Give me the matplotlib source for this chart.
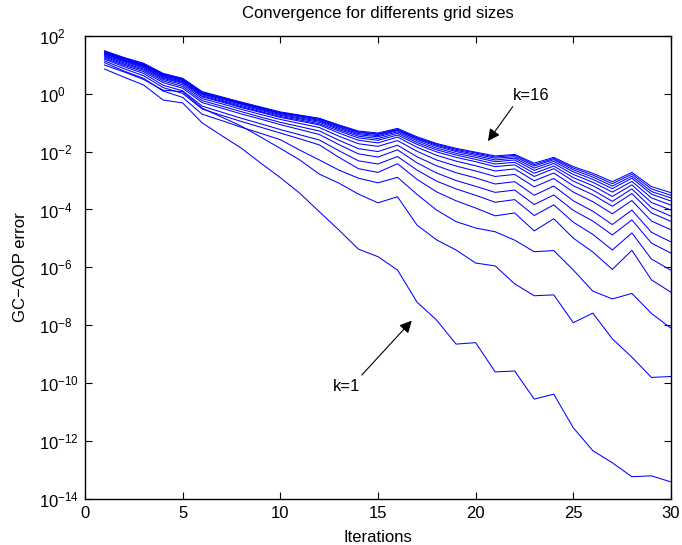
import matplotlib
matplotlib.use('Agg')
import matplotlib.pyplot as plt
import numpy as np

plt.rcParams['font.family'] = ['Liberation Sans', 'DejaVu Sans']
plt.rcParams['mathtext.default'] = 'regular'

iterations = list(range(1, 31))

# log10 of the GC-AOP error, one list per grid size k
k1 = [0.85, 0.57, 0.30, -0.22, -0.32, -1.01, -1.45, -1.88, -2.40, -2.90, -3.44, -4.08, -4.71, -5.37, -5.63,
      -6.09, -7.20, -7.82, -8.65, -8.60, -9.61, -9.58, -10.55, -10.38, -11.54, -12.33, -12.75, -13.23, -13.20, -13.41]
k2 = [0.99, 0.75, 0.49, 0.12, 0.07, -0.50, -0.81, -1.12, -1.50, -1.89, -2.29, -2.78, -3.09, -3.47, -3.77,
      -3.56, -4.54, -5.05, -5.40, -5.85, -5.95, -6.57, -6.98, -6.95, -7.91, -7.58, -8.47, -9.10, -9.80, -9.77]
k3 = [1.07, 0.78, 0.53, 0.09, -0.13, -0.71, -0.93, -1.16, -1.37, -1.59, -1.95, -2.29, -2.64, -2.92, -3.08,
      -2.89, -3.48, -4.02, -4.42, -4.64, -4.77, -5.06, -5.46, -5.42, -6.09, -6.82, -7.09, -6.90, -7.59, -8.10]
k4 = [1.13, 0.86, 0.62, 0.21, 0.01, -0.53, -0.75, -0.96, -1.16, -1.36, -1.56, -1.77, -2.20, -2.59, -2.72,
      -2.42, -2.96, -3.39, -3.70, -3.95, -4.22, -4.12, -4.74, -4.32, -4.99, -5.47, -6.07, -5.41, -6.43, -6.86]
k5 = [1.19, 0.93, 0.70, 0.29, 0.10, -0.43, -0.64, -0.85, -1.04, -1.24, -1.42, -1.60, -1.97, -2.32, -2.43,
      -2.17, -2.64, -3.02, -3.29, -3.51, -3.75, -3.66, -4.21, -3.84, -4.44, -4.86, -5.40, -4.81, -5.71, -6.10]
k6 = [1.23, 0.98, 0.76, 0.38, 0.19, -0.31, -0.50, -0.70, -0.88, -1.07, -1.24, -1.41, -1.76, -2.08, -2.19,
      -1.94, -2.39, -2.74, -3.00, -3.20, -3.41, -3.33, -3.83, -3.50, -4.03, -4.40, -4.88, -4.36, -5.16, -5.51]
k7 = [1.27, 1.02, 0.81, 0.44, 0.25, -0.24, -0.43, -0.62, -0.81, -0.99, -1.14, -1.29, -1.61, -1.90, -2.00,
      -1.78, -2.18, -2.49, -2.73, -2.91, -3.12, -3.04, -3.51, -3.19, -3.70, -4.06, -4.52, -4.02, -4.79, -5.12]
k8 = [1.30, 1.06, 0.85, 0.49, 0.31, -0.17, -0.35, -0.54, -0.72, -0.89, -1.03, -1.17, -1.47, -1.73, -1.82,
      -1.62, -1.99, -2.29, -2.50, -2.67, -2.86, -2.79, -3.22, -2.93, -3.40, -3.73, -4.15, -3.69, -4.40, -4.70]
k9 = [1.33, 1.10, 0.89, 0.53, 0.36, -0.11, -0.29, -0.48, -0.65, -0.82, -0.95, -1.08, -1.36, -1.61, -1.70,
      -1.50, -1.85, -2.13, -2.33, -2.49, -2.67, -2.60, -3.01, -2.74, -3.18, -3.49, -3.89, -3.45, -4.12, -4.41]
k10 = [1.36, 1.13, 0.92, 0.56, 0.39, -0.08, -0.26, -0.45, -0.62, -0.79, -0.91, -1.04, -1.29, -1.53, -1.61,
       -1.43, -1.75, -2.01, -2.20, -2.35, -2.52, -2.46, -2.86, -2.59, -3.02, -3.33, -3.72, -3.29, -3.94, -4.23]
k11 = [1.38, 1.15, 0.95, 0.59, 0.42, -0.04, -0.23, -0.41, -0.58, -0.75, -0.87, -0.99, -1.24, -1.47, -1.55,
       -1.37, -1.69, -1.94, -2.12, -2.27, -2.43, -2.37, -2.75, -2.50, -2.90, -3.18, -3.55, -3.15, -3.76, -4.02]
k12 = [1.40, 1.17, 0.97, 0.62, 0.45, -0.01, -0.19, -0.37, -0.55, -0.72, -0.84, -0.95, -1.20, -1.42, -1.49,
       -1.32, -1.63, -1.88, -2.06, -2.20, -2.35, -2.29, -2.65, -2.41, -2.79, -3.06, -3.40, -3.03, -3.60, -3.85]
k13 = [1.42, 1.19, 0.99, 0.64, 0.47, 0.01, -0.17, -0.35, -0.52, -0.69, -0.80, -0.92, -1.16, -1.38, -1.45,
       -1.28, -1.58, -1.82, -2.00, -2.14, -2.29, -2.23, -2.57, -2.34, -2.70, -2.96, -3.28, -2.92, -3.47, -3.71]
k14 = [1.44, 1.21, 1.01, 0.66, 0.49, 0.03, -0.15, -0.33, -0.50, -0.67, -0.78, -0.89, -1.13, -1.34, -1.41,
       -1.25, -1.55, -1.78, -1.96, -2.09, -2.23, -2.18, -2.50, -2.28, -2.63, -2.88, -3.19, -2.85, -3.38, -3.60]
k15 = [1.46, 1.23, 1.03, 0.68, 0.51, 0.05, -0.13, -0.31, -0.48, -0.65, -0.76, -0.87, -1.10, -1.32, -1.39,
       -1.23, -1.52, -1.75, -1.92, -2.05, -2.19, -2.13, -2.45, -2.24, -2.57, -2.81, -3.11, -2.78, -3.29, -3.51]
k16 = [1.48, 1.25, 1.05, 0.70, 0.53, 0.07, -0.11, -0.29, -0.46, -0.63, -0.74, -0.85, -1.08, -1.29, -1.36,
       -1.20, -1.49, -1.72, -1.89, -2.02, -2.15, -2.10, -2.40, -2.20, -2.52, -2.75, -3.04, -2.72, -3.21, -3.42]

series = [k1, k2, k3, k4, k5, k6, k7, k8, k9, k10, k11, k12, k13, k14, k15, k16]

x_ticks = [0, 5, 10, 15, 20, 25, 30]
y_exponents = [-14, -12, -10, -8, -6, -4, -2, 0, 2]

title_text = 'Convergence for differents grid sizes'
x_label = 'Iterations'
y_label = 'GC\u2212AOP error'

fig = plt.figure(figsize=(6.82, 5.45), dpi=100)
ax = fig.add_axes([0.1246, 0.0844, 0.8592, 0.850])

for s in series:
    ax.plot(iterations, 10.0 ** np.array(s), color='#0000ff', lw=0.75)

ax.set_yscale('log')
ax.set_xlim(0, 30)
ax.set_ylim(1e-14, 1e2)
ax.set_xticks(x_ticks)
ax.set_xticklabels([str(t) for t in x_ticks])
ax.set_yticks([10.0 ** e for e in y_exponents])
ax.set_yticklabels(['$10^{%d}$' % e for e in y_exponents])
ax.yaxis.set_minor_locator(matplotlib.ticker.NullLocator())

fs = 12
ax.tick_params(axis='both', which='major', direction='in', length=5, width=0.8,
               top=True, right=True, labelsize=fs)
ax.tick_params(axis='x', pad=5)
ax.tick_params(axis='y', pad=33)
for lab in ax.get_yticklabels():
    lab.set_horizontalalignment('left')

for sp in ax.spines.values():
    sp.set_linewidth(1.0)

ax.set_title(title_text, fontsize=fs, pad=13)
ax.set_xlabel(x_label, fontsize=fs)
ax.set_ylabel(y_label, fontsize=fs)
ax.xaxis.set_label_coords(0.5, -0.066)
ax.yaxis.set_label_coords(-0.098, 0.5)

arrow_kw = dict(arrowstyle='-|>', color='k', lw=0.8, mutation_scale=18,
                shrinkA=0, shrinkB=0)
ax.annotate('', xy=(20.63, 10 ** -1.64), xytext=(21.9, 10 ** -0.45), arrowprops=arrow_kw)
ax.text(21.9, 10 ** -0.08, 'k=16', ha='left', va='center', fontsize=fs)
ax.annotate('', xy=(16.73, 10 ** -7.84), xytext=(14.17, 10 ** -9.72), arrowprops=arrow_kw)
ax.text(13.37, 10 ** -10.1, 'k=1', ha='center', va='center', fontsize=fs)

fig.savefig('out.png', dpi=100)
